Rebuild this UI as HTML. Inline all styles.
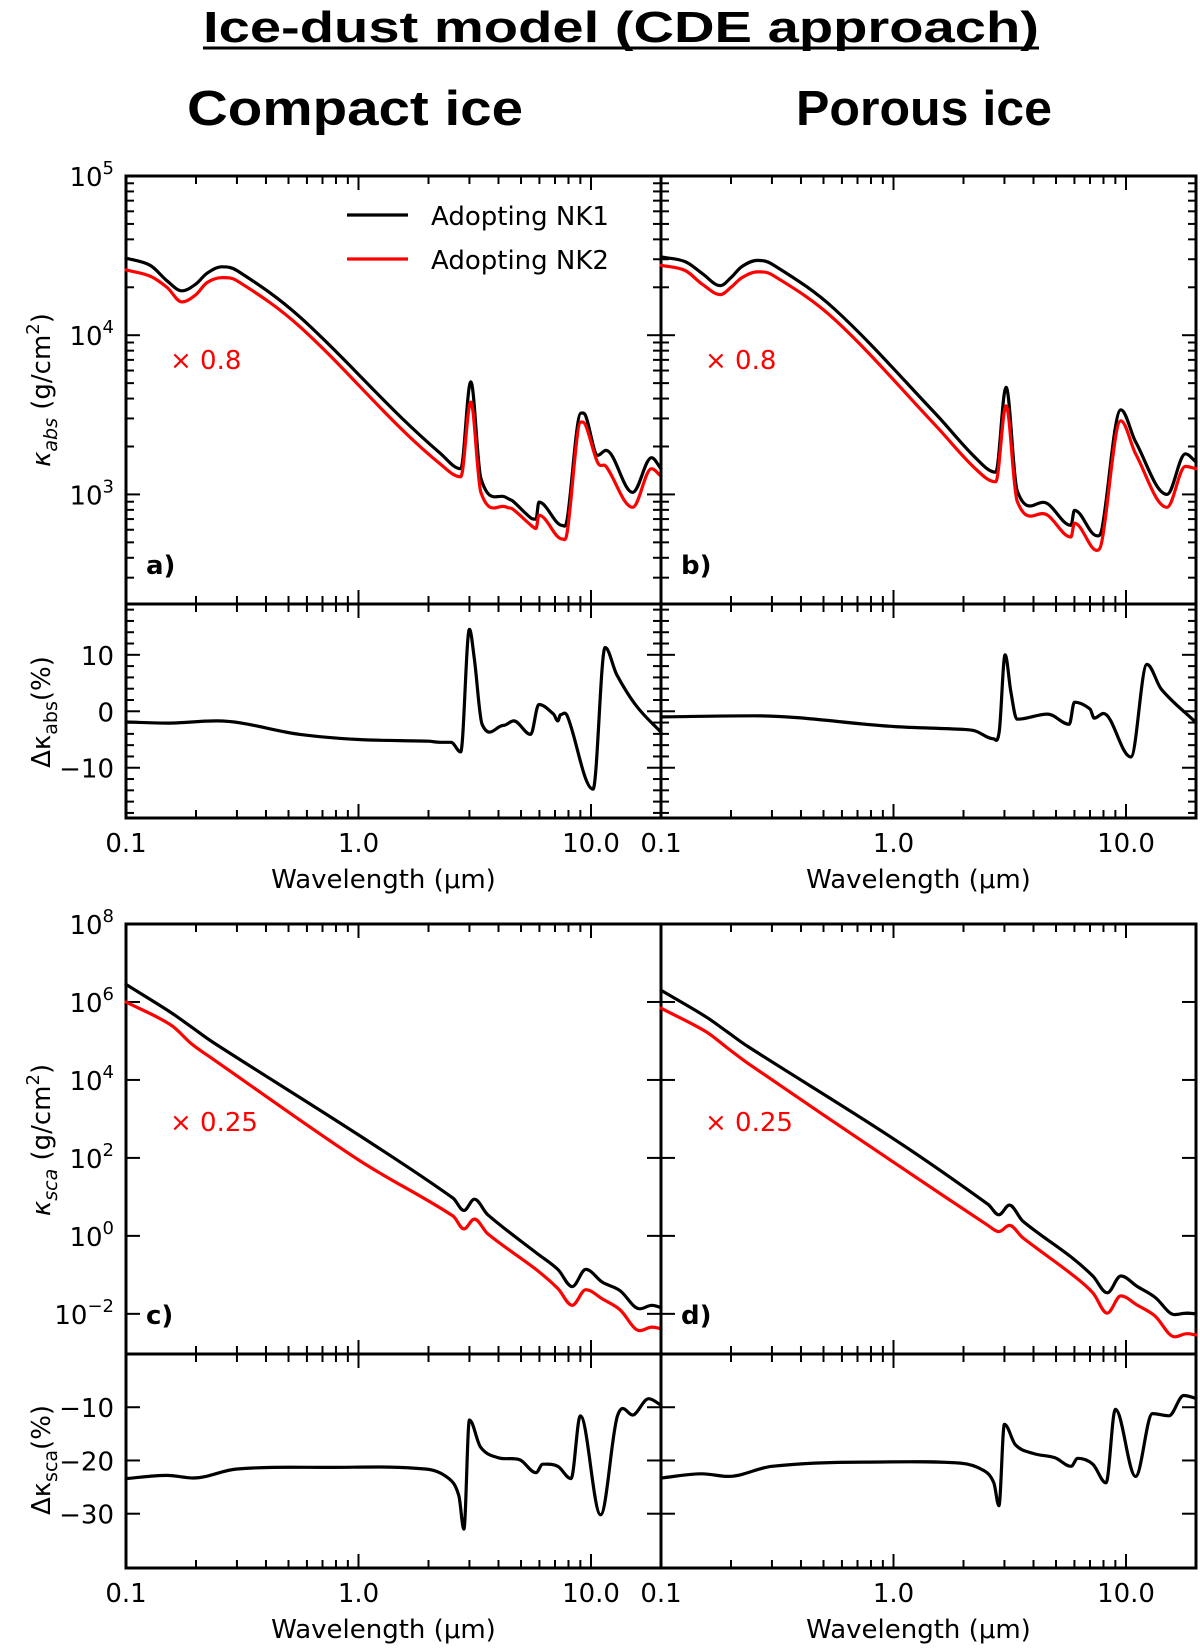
<!DOCTYPE html>
<html><head><meta charset="utf-8"><style>
html,body{margin:0;padding:0;background:#fff;}
svg text{font-family:"DejaVu Sans","Liberation Sans",sans-serif;}
</style></head><body>
<svg id="fig" xmlns="http://www.w3.org/2000/svg" width="1200" height="1646" viewBox="0 0 1200 1646">
<text x="621" y="42" text-anchor="middle" font-size="44" font-weight="bold" style="font-family:'Liberation Sans',sans-serif" textLength="836" lengthAdjust="spacingAndGlyphs">Ice-dust model (CDE approach)</text>
<line x1="203" y1="48" x2="1039" y2="48" stroke="#000" stroke-width="3"/>
<text x="355" y="125" text-anchor="middle" font-size="49" font-weight="bold" style="font-family:'Liberation Sans',sans-serif" textLength="336" lengthAdjust="spacingAndGlyphs">Compact ice</text>
<text x="924" y="125" text-anchor="middle" font-size="49" font-weight="bold" style="font-family:'Liberation Sans',sans-serif" textLength="256" lengthAdjust="spacingAndGlyphs">Porous ice</text>
<g id="plots"></g>
</svg>
<script>
// ---- data (wavelength in micron) ----
const lamAbsA = [0.1,0.127,0.15,0.174,0.2,0.223,0.259,0.3,0.56,1.52,2.25,2.75,3.04,3.36,4.35,4.6,5.52,5.8,5.97,7.53,7.9,9.06,9.5,10.7,11.6,15.1,18.2,20];
const absA_NK1 = [3.05e4,2.75e4,2.2e4,1.9e4,2.1e4,2.45e4,2.69e4,2.55e4,1.3e4,3.06e3,1.81e3,1.45e3,5.1e3,1.26e3,950,910,710,700,895,638,700,3.24e3,3.1e3,1.76e3,1.89e3,1.03e3,1.7e3,1.45e3];
const absA_NK2 = [2.57e4,2.35e4,2.0e4,1.62e4,1.8e4,2.14e4,2.3e4,2.2e4,1.13e4,2.6e3,1.55e3,1.29e3,3.8e3,1.03e3,830,810,640,611,740,525,580,2.85e3,2.7e3,1.58e3,1.5e3,830,1.45e3,1.3e3];
const lamAbsB = [0.1,0.127,0.15,0.18,0.2,0.223,0.26,0.3,0.56,1.52,2.25,2.75,3.05,3.4,4.6,5.8,6.0,7.5,7.9,9.5,11,15,18,20];
const absB_NK1 = [3.1e4,2.9e4,2.45e4,2.05e4,2.3e4,2.7e4,2.95e4,2.8e4,1.45e4,3.2e3,1.7e3,1.38e3,4.7e3,1.06e3,875,640,795,550,620,3.4e3,2.14e3,1.0e3,1.8e3,1.6e3];
const absB_NK2 = [2.75e4,2.55e4,2.1e4,1.8e4,2.0e4,2.3e4,2.5e4,2.4e4,1.25e4,2.7e3,1.45e3,1.2e3,3.6e3,910,740,540,660,445,520,2.9e3,1.8e3,830,1.5e3,1.45e3];
const lamResA = [0.1,0.15,0.245,0.56,1.0,2.0,2.25,2.5,2.75,3.0,3.15,3.4,4.2,4.65,5.5,5.97,6.9,7.2,7.4,7.9,10.2,11.5,12.9,15.7,20];
const resA = [-1.9,-2.1,-1.7,-4.1,-5.0,-5.3,-5.5,-5.5,-7.2,14.5,9.2,-2.3,-2.5,-1.7,-4.1,1.2,-0.5,-1.7,-0.6,-0.8,-13.8,11.3,6.5,0.9,-3.7];
const lamResB = [0.1,0.25,1.0,2.0,2.25,2.7,2.85,3.02,3.2,3.4,4.6,5.7,6.0,7.0,7.3,8.0,10.5,12.3,14.2,20];
const resB = [-1.0,-0.8,-2.7,-3.2,-3.5,-4.9,-3.5,10.0,3.3,-1.4,-0.5,-2.3,1.6,0.4,-1.2,-0.4,-8.1,8.3,3.9,-2.0];
const lamSca = [0.1,0.156,0.192,0.236,1.0,2.55,2.84,3.15,3.6,5.8,7.2,8.3,9.5,11.2,13.3,16.2,18.3,20];
const scaC_NK1 = [6.45,5.73,5.35,4.97,2.59,0.97,0.65,0.94,0.54,-0.43,-0.86,-1.30,-0.86,-1.19,-1.40,-1.87,-1.78,-1.84];
const scaC_NK2 = [6.0,5.41,4.92,4.54,1.95,0.51,0.18,0.43,0.05,-0.86,-1.35,-1.78,-1.38,-1.62,-1.89,-2.43,-2.34,-2.38];
const scaD_NK1 = [6.30,5.62,5.24,4.86,2.49,0.81,0.54,0.79,0.38,-0.54,-1.03,-1.46,-1.03,-1.30,-1.57,-2.02,-1.98,-2.0];
const scaD_NK2 = [5.84,5.24,4.83,4.43,1.89,0.27,0.11,0.27,-0.05,-0.97,-1.46,-1.98,-1.54,-1.78,-2.05,-2.59,-2.51,-2.54];
const lamResSca = [0.1,0.15,0.195,0.3,0.74,1.94,2.45,2.7,2.84,3.0,3.35,4.0,4.95,5.8,6.2,7.2,8.2,9.0,11.0,13.0,15.3,17.7,20];
const resC = [-23.4,-22.8,-23.3,-21.6,-21.3,-21.6,-23.4,-26.6,-32.9,-12.4,-17.5,-19.5,-19.9,-22.3,-20.7,-21.1,-23.4,-11.6,-30.2,-11.6,-11.4,-8.4,-9.6];
const resD = [-23.3,-22.5,-23.0,-21.1,-20.3,-20.5,-21.9,-24.2,-28.5,-13.2,-17.1,-18.7,-19.5,-21.1,-19.6,-20.7,-24.2,-10.4,-23.0,-11.2,-11.6,-7.8,-8.3];
const xTickLabels = ["0.1","1.0","10.0"];
const absTickExp = [3,4,5];
const scaTickExp = [-2,0,2,4,6,8];
const resAbsTicks = [-10,0,10];
const resScaTicks = [-30,-20,-10];

const NS="http://www.w3.org/2000/svg";
const root=document.getElementById('plots');
function mk(tag,attrs,parent){const e=document.createElementNS(NS,tag);for(const k in attrs)e.setAttribute(k,attrs[k]);(parent||root).appendChild(e);return e;}
const LMIN=-1, LMAX=Math.log10(20);
function xs(x0,x1){return v=>x0+(Math.log10(v)-LMIN)/(LMAX-LMIN)*(x1-x0);}
function ylog(y0,y1,lo,hi){return v=>y1-(Math.log10(v)-lo)/(hi-lo)*(y1-y0);}
function ylin(y0,y1,lo,hi){return v=>y1-(v-lo)/(hi-lo)*(y1-y0);}
function line(lams,vals,X,Y,color,name){
  const P=lams.map((l,i)=>[X(l),Y(vals[i])]);
  let d='M'+P[0][0].toFixed(1)+','+P[0][1].toFixed(1);
  const t=0.35;
  for(let i=0;i<P.length-1;i++){
    const p0=P[Math.max(0,i-1)],p1=P[i],p2=P[i+1],p3=P[Math.min(P.length-1,i+2)];
    const dx=p2[0]-p1[0];
    // tangents limited in x to avoid backtracking
    let m1=(p2[1]-p0[1])/((p2[0]-p0[0])||1), m2=(p3[1]-p1[1])/((p3[0]-p1[0])||1);
    const s=(p2[1]-p1[1])/(dx||1);
    if(i>0){const sp=(p1[1]-p0[1])/((p1[0]-p0[0])||1); if(sp*s<=0) m1=0;} else m1=s;
    if(i<P.length-2){const sn=(p3[1]-p2[1])/((p3[0]-p2[0])||1); if(sn*s<=0) m2=0;} else m2=s;
    const c1=[p1[0]+dx*t,p1[1]+m1*dx*t], c2=[p2[0]-dx*t,p2[1]-m2*dx*t];
    d+='C'+c1[0].toFixed(1)+','+c1[1].toFixed(1)+' '+c2[0].toFixed(1)+','+c2[1].toFixed(1)+' '+p2[0].toFixed(1)+','+p2[1].toFixed(1);
  }
  const p=mk('path',{d:d,fill:'none',stroke:color,'stroke-width':3.2,'stroke-linejoin':'round','stroke-linecap':'round'});
  
  
}
function xticks(X,x0,x1,yt,yb,g){
  for(let dec=-1;dec<=1;dec++){for(let m=1;m<=9;m++){const v=m*Math.pow(10,dec);if(v>20.001)continue;const x=X(v);const L=m===1?14:8;
    mk('line',{x1:x,y1:yb,x2:x,y2:yb-L,stroke:'#000','stroke-width':2},g);
    mk('line',{x1:x,y1:yt,x2:x,y2:yt+L,stroke:'#000','stroke-width':2},g);}}
}
function yticksAt(list,Y,x0,x1,L,g){list.forEach(v=>{const y=Y(v);
  mk('line',{x1:x0,y1:y,x2:x0+L,y2:y,stroke:'#000','stroke-width':2},g);
  mk('line',{x1:x1,y1:y,x2:x1-L,y2:y,stroke:'#000','stroke-width':2},g);});}
function frame(x0,y0,x1,y1,g){mk('rect',{x:x0,y:y0,width:x1-x0,height:y1-y0,fill:'none',stroke:'#000','stroke-width':3},g);}
function pow10label(x,y,e,name){
  const t=mk('text',{x:x,y:y,'text-anchor':'end','font-size':26});
  
  
  t.textContent='10';
  const s=mk('tspan',{dy:-12,'font-size':18},t);s.textContent=String(e).replace('-','\u2212');
}
function txt(x,y,s,attrs,name){const t=mk('text',Object.assign({x:x,y:y,'font-size':26},attrs||{}));t.textContent=s;
  
  
  return t;}

function panel(opt){
  const g=mk('g',{});
  
  
  const X=xs(opt.x0,opt.x1);
  const Ym=opt.Ym, Yr=opt.Yr;
  line(opt.lam,opt.nk1,X,Ym,'#000',opt.name+'-nk1-line');
  line(opt.lam,opt.nk2,X,Ym,'#f00',opt.name+'-nk2-line');
  line(opt.lamR,opt.res,X,Yr,'#000',opt.name+'-residual-line');
  frame(opt.x0,opt.ym0,opt.x1,opt.ym1,g);
  frame(opt.x0,opt.ym1,opt.x1,opt.yr1,g);
  xticks(X,opt.x0,opt.x1,opt.ym0,opt.ym1,g);
  xticks(X,opt.x0,opt.x1,opt.ym1,opt.yr1,g);
  yticksAt(opt.mMaj,Ym,opt.x0,opt.x1,14,g);
  if(opt.mMin) yticksAt(opt.mMin,Ym,opt.x0,opt.x1,8,g);
  yticksAt(opt.rMaj,Yr,opt.x0,opt.x1,14,g);
  if(opt.rMin) yticksAt(opt.rMin,Yr,opt.x0,opt.x1,8,g);
  [0.1,1,10].forEach((v,i)=>txt(X(v),opt.yr1+34,xTickLabels[i],{'text-anchor':'middle'},opt.name+'-x-tick-label'));
  txt((opt.x0+opt.x1)/2-10,opt.yr1+70,'Wavelength (\u03bcm)',{'text-anchor':'middle'},opt.name+'-x-axis-title');
  txt(opt.x0+20,opt.ym1-30,opt.letter,{'font-weight':'bold','font-size':26},opt.name+'-panel-label');
  txt(opt.x0+44,opt.factorY,'\u00d7 '+opt.factor,{fill:'#f00','font-size':26},opt.name+'-scale-factor');
  return X;
}
const absMin=[];[2,3,4,5,6,7,8,9].forEach(m=>{absMin.push(m*100);absMin.push(m*1000);absMin.push(m*10000);});
const absMinF=absMin.filter(v=>v>=210);
const resAbsMin=[];for(let v=-18;v<=18;v+=2){if(v%10)resAbsMin.push(v);}

const YmAbs=ylog(176,604,Math.log10(205),5);
const YrAbs=ylin(604,818,-18.9,19);
const YmSca=ylog(924,1354,-3.03,8);
const YrSca=ylin(1354,1568,-40.2,0);

panel({name:'panel-a',x0:126,x1:661,ym0:176,ym1:604,yr1:818,Ym:YmAbs,Yr:YrAbs,lam:lamAbsA,nk1:absA_NK1,nk2:absA_NK2,lamR:lamResA,res:resA,
  mMaj:absTickExp.map(e=>Math.pow(10,e)),mMin:absMinF,rMaj:resAbsTicks,rMin:resAbsMin,letter:'a)',factor:'0.8',factorY:369});
panel({name:'panel-b',x0:661,x1:1196,ym0:176,ym1:604,yr1:818,Ym:YmAbs,Yr:YrAbs,lam:lamAbsB,nk1:absB_NK1,nk2:absB_NK2,lamR:lamResB,res:resB,
  mMaj:absTickExp.map(e=>Math.pow(10,e)),mMin:absMinF,rMaj:resAbsTicks,rMin:resAbsMin,letter:'b)',factor:'0.8',factorY:369});
const p10=a=>a.map(v=>Math.pow(10,v));
panel({name:'panel-c',x0:126,x1:661,ym0:924,ym1:1354,yr1:1568,Ym:YmSca,Yr:YrSca,lam:lamSca,nk1:p10(scaC_NK1),nk2:p10(scaC_NK2),lamR:lamResSca,res:resC,
  mMaj:scaTickExp.map(e=>Math.pow(10,e)),mMin:null,rMaj:resScaTicks,rMin:null,letter:'c)',factor:'0.25',factorY:1131});
panel({name:'panel-d',x0:661,x1:1196,ym0:924,ym1:1354,yr1:1568,Ym:YmSca,Yr:YrSca,lam:lamSca,nk1:p10(scaD_NK1),nk2:p10(scaD_NK2),lamR:lamResSca,res:resD,
  mMaj:scaTickExp.map(e=>Math.pow(10,e)),mMin:null,rMaj:resScaTicks,rMin:null,letter:'d)',factor:'0.25',factorY:1131});

absTickExp.forEach(e=>pow10label(114,YmAbs(Math.pow(10,e))+10,e,'abs-y-tick-label'));
resAbsTicks.forEach(v=>txt(114,YrAbs(v)+10,String(v).replace('-','\u2212'),{'text-anchor':'end'},'abs-residual-y-tick-label'));
scaTickExp.forEach(e=>pow10label(114,YmSca(Math.pow(10,e))+10,e,'sca-y-tick-label'));
resScaTicks.forEach(v=>txt(114,YrSca(v)+10,String(v).replace('-','\u2212'),{'text-anchor':'end'},'sca-residual-y-tick-label'));

function ytitle(y,main,sub,tail,name){
  const t=mk('text',{x:0,y:0,'font-size':26,'text-anchor':'middle',transform:'translate(50,'+y+') rotate(-90)'});
  
  
  const a=mk('tspan',{},t);a.textContent=main;
  const b=mk('tspan',{dy:7,'font-size':19},t);b.textContent=sub;
  const c=mk('tspan',{dy:-7},t);c.textContent=tail;
}
function ytitleUnits(y,sub,name){
  const t=mk('text',{x:0,y:0,'font-size':26,'text-anchor':'middle',transform:'translate(50,'+y+') rotate(-90)'});
  
  
  const a=mk('tspan',{'font-style':'italic'},t);a.textContent='\u03ba';
  const b=mk('tspan',{dy:7,'font-size':19,'font-style':'italic'},t);b.textContent=sub;
  const c=mk('tspan',{dy:-7},t);c.textContent=' (g/cm';
  const d=mk('tspan',{dy:-11,'font-size':18},t);d.textContent='2';
  const e=mk('tspan',{dy:11},t);e.textContent=')';
}
ytitleUnits(390,'abs','abs-y-axis-title');
ytitleUnits(1140,'sca','sca-y-axis-title');
ytitle(712,'\u0394\u03ba','abs','(%)','abs-residual-y-axis-title');
ytitle(1460,'\u0394\u03ba','sca','(%)','sca-residual-y-axis-title');

const lg=mk('g',{});


const l1=mk('line',{x1:347,y1:215,x2:408,y2:215,stroke:'#000','stroke-width':3.2},lg);


const l2=mk('line',{x1:347,y1:259,x2:408,y2:259,stroke:'#f00','stroke-width':3.2},lg);


txt(431,225,'Adopting NK1',{'font-size':26},'legend-entry-nk1');
txt(431,269,'Adopting NK2',{'font-size':26},'legend-entry-nk2');
</script>
</body></html>
